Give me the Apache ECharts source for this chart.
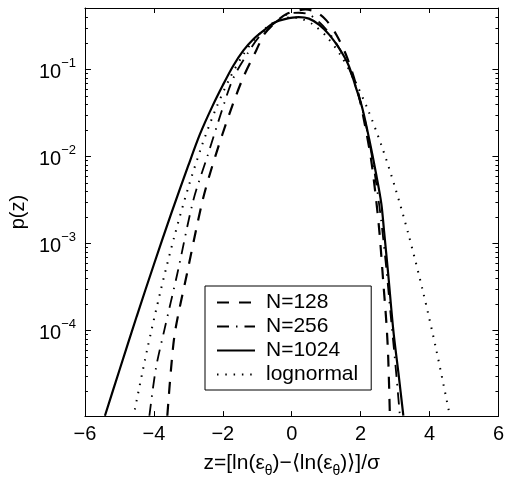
<!DOCTYPE html>
<html>
<head>
<meta charset="utf-8">
<script src="https://cdn.jsdelivr.net/npm/echarts@6/dist/echarts.min.js"></script>
<style>
html,body{margin:0;padding:0;background:#fff;}
#chart{width:507px;height:483px;}
</style>
</head>
<body>
<div id="chart"></div>
<script>
// ---- data ----
const xTicks = [-6, -4, -2, 0, 2, 4, 6];
const yTickExponents = [-4, -3, -2, -1];
const seriesNames = ['N=128', 'N=256', 'N=1024', 'lognormal'];

const z128 = [-3.61,-3.5,-3.38,-3.04,-2.58,-2.22,-1.8,-1.42,-1.03,-0.79,-0.45,-0.15,0.4,0.7,1.0,1.3,1.6,1.9,2.1,2.3,2.45,2.55,2.66,2.75,2.8,2.85];
const p128 = [1.05e-5,3.7e-5,1e-4,4.5e-4,3.2e-3,0.01,0.0316,0.079,0.166,0.257,0.355,0.436,0.49,0.46,0.37,0.25,0.14,0.06,0.026,0.0095,3.2e-3,1.3e-3,3.5e-4,1.2e-4,5e-5,1.05e-5];

const z256 = [-4.13,-3.94,-3.7,-3.32,-2.85,-2.45,-2.05,-1.7,-1.26,-0.9,-0.45,-0.1,0.2,0.5,0.8,1.1,1.4,1.7,2.0,2.25,2.45,2.6,2.75,2.88,3.0,3.14];
const p256 = [1.05e-5,3.7e-5,1e-4,4.5e-4,3.2e-3,0.01,0.0316,0.079,0.158,0.25,0.355,0.436,0.45,0.43,0.35,0.26,0.17,0.095,0.042,0.015,5e-3,1.8e-3,5e-4,1.4e-4,4.5e-5,1.05e-5];

const z1024 = [-5.42,-5.0,-4.5,-4.0,-3.5,-3.0,-2.66,-2.3,-2.0,-1.7,-1.4,-1.1,-0.8,-0.5,-0.2,0.2,0.5,0.8,1.1,1.4,1.65,1.85,2.05,2.25,2.45,2.6,2.68,2.8,2.95,3.1,3.24];
const p1024 = [1.05e-5,3.5e-5,1.45e-4,5.75e-4,2.19e-3,7.9e-3,0.0182,0.038,0.066,0.11,0.166,0.226,0.284,0.347,0.38,0.40,0.385,0.326,0.249,0.17,0.112,0.0646,0.036,0.0158,6.3e-3,2.9e-3,1.4e-3,4.5e-4,1e-4,3.2e-5,1.05e-5];

const zLog = [-4.6,-4.2,-3.8,-3.4,-3.0,-2.6,-2.2,-1.8,-1.4,-1.0,-0.6,-0.3,0,0.3,0.6,1.0,1.4,1.8,2.2,2.6,3.0,3.4,3.8,4.2,4.6];
const pLog = [1.0e-5,5.9e-5,2.92e-4,1.23e-3,4.43e-3,0.0136,0.0355,0.079,0.15,0.242,0.333,0.381,0.399,0.381,0.333,0.242,0.15,0.079,0.0355,0.0136,4.43e-3,1.23e-3,2.92e-4,5.9e-5,1.0e-5];

// ---- chart ----
const FONT = "'Liberation Sans', Arial, Helvetica, sans-serif";
function zip(a, b) { return a.map((v, i) => [v, b[i]]); }

const yLabelFmt = function (v) {
  const e = Math.log10(v);
  const r = Math.round(e);
  if (Math.abs(e - r) > 1e-6 || yTickExponents.indexOf(r) < 0) return '';
  return '{b|10}{s|' + (r < 0 ? '\u2212' + (-r) : r) + '}';
};
const xLabelFmt = function (v) { return v < 0 ? '\u2212' + (-v) : String(v); };

const axisLine = { show: true, onZero: false, lineStyle: { color: '#000', width: 1 } };
const yBase = {
  type: 'log', logBase: 10, min: 1.04e-5, max: 0.51,
  axisLine: axisLine,
  axisTick: { show: true, inside: true, length: 6, lineStyle: { color: '#000' } },
  minorTick: { show: true, splitNumber: 9, length: 3, lineStyle: { color: '#000' } },
  splitLine: { show: false }, minorSplitLine: { show: false }
};
const xBase = {
  type: 'value', min: xTicks[0], max: xTicks[xTicks.length - 1], interval: 2,
  axisLine: axisLine,
  axisTick: { show: true, inside: true, length: 5, lineStyle: { color: '#000' } },
  splitLine: { show: false }
};

const lineCommon = { type: 'line', showSymbol: false, symbol: 'none', smooth: 0.3, clip: true, animation: false };

const chart = echarts.init(document.getElementById('chart'), null, { renderer: 'canvas' });
chart.setOption({
  backgroundColor: '#fff',
  animation: false,
  textStyle: { fontFamily: FONT },
  grid: { left: 84, right: 6, top: 8, bottom: 57, containLabel: false },
  xAxis: [
    Object.assign({}, xBase, {
      position: 'bottom',
      axisLabel: { color: '#000', fontSize: 20, fontFamily: FONT, margin: 8, formatter: xLabelFmt },
      name: 'z=[ln(\u03b5{sub|\u03b8})\u2212\u27e8ln(\u03b5{sub|\u03b8})\u27e9]/\u03c3',
      nameLocation: 'middle', nameGap: 22,
      nameTextStyle: {
        color: '#000', fontSize: 21, fontFamily: FONT, lineHeight: 29, verticalAlign: 'top',
        rich: { sub: { fontSize: 14, fontFamily: FONT, color: '#000', verticalAlign: 'bottom', lineHeight: 14 } }
      }
    }),
    Object.assign({}, xBase, { position: 'top', axisLabel: { show: false } })
  ],
  yAxis: [
    Object.assign({}, yBase, {
      position: 'left',
      axisLabel: {
        color: '#000', margin: 9, formatter: yLabelFmt, showMinLabel: false, showMaxLabel: false,
        rich: {
          b: { fontSize: 20, fontFamily: FONT, color: '#000', verticalAlign: 'bottom', lineHeight: 26 },
          s: { fontSize: 13, fontFamily: FONT, color: '#000', verticalAlign: 'top', lineHeight: 13 }
        }
      },
      name: 'p(z)', nameLocation: 'middle', nameGap: 43, nameRotate: 90,
      nameTextStyle: { color: '#000', fontSize: 20, fontFamily: FONT }
    }),
    Object.assign({}, yBase, { position: 'right', axisLabel: { show: false } })
  ],
  legend: {
    orient: 'vertical', left: 205, top: 286,
    padding: [6, 13, 5, 11], itemGap: 3,
    itemWidth: 38, itemHeight: 14,
    borderColor: '#000', borderWidth: 1, backgroundColor: '#fff',
    itemStyle: { opacity: 0 },
    textStyle: { color: '#000', fontSize: 21, fontFamily: FONT, lineHeight: 21, padding: [0, 0, 0, 6] },
    data: seriesNames
  },
  series: [
    Object.assign({}, lineCommon, { name: seriesNames[0], data: zip(z128, p128),
      lineStyle: { color: '#000', width: 2.2, type: [12, 10] }, itemStyle: { color: '#000' } }),
    Object.assign({}, lineCommon, { name: seriesNames[1], data: zip(z256, p256),
      lineStyle: { color: '#000', width: 1.8, type: [12, 7, 1.5, 7] }, itemStyle: { color: '#000' } }),
    Object.assign({}, lineCommon, { name: seriesNames[2], data: zip(z1024, p1024),
      lineStyle: { color: '#000', width: 2.2, type: 'solid' }, itemStyle: { color: '#000' } }),
    Object.assign({}, lineCommon, { name: seriesNames[3], data: zip(zLog, pLog),
      lineStyle: { color: '#000', width: 2, type: [1.5, 6.8] }, itemStyle: { color: '#000' } })
  ]
});
</script>
</body>
</html>
